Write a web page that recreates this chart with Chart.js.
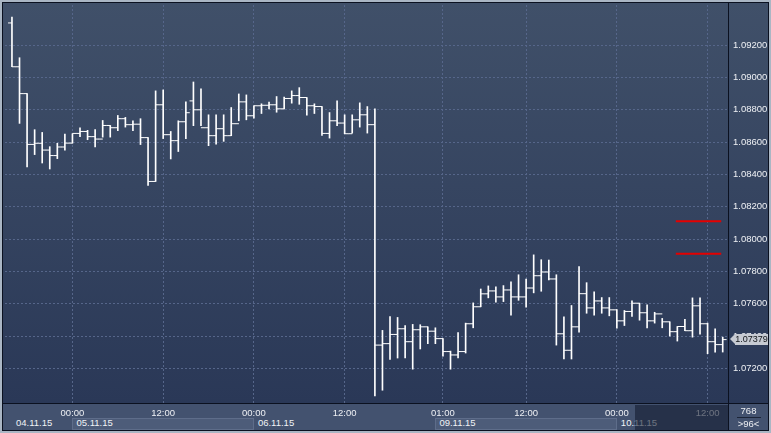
<!DOCTYPE html>
<html>
<head>
<meta charset="utf-8">
<script src="https://cdn.jsdelivr.net/npm/chart.js@4.4.0/dist/chart.umd.min.js"></script>
<style>
  body { margin: 0; background: #aab6c4; }
  #wrap { position: relative; width: 771px; height: 433px; overflow: hidden; background: #aab6c4; font-family: "Liberation Sans", Arial, sans-serif; }
  .abs { position: absolute; }
  #inner { left: 2px; top: 2px; width: 767px; height: 429px; background: #0b1120; }
  #plotBg { left: 3px; top: 3px; width: 725px; height: 400px; background: linear-gradient(#405069, #2a3857); }
  #axisBg { left: 729px; top: 3px; width: 39px; height: 400px; background: linear-gradient(#405069, #2a3857); }
  #band { left: 3px; top: 404px; width: 725px; height: 26px; background: #43526f; }
  #corner { left: 729px; top: 404px; width: 39px; height: 26px; background: #43526f; color: #eef0f4; font-size: 9.5px; text-align: center; }
  #corner .top { position: absolute; left: 0; width: 39px; top: 1px; line-height: 12px; }
  #corner .rule { position: absolute; left: 8px; width: 24px; top: 13px; height: 1px; background: #1c2538; }
  #corner .bot { position: absolute; left: 0; width: 39px; top: 14px; line-height: 12px; }
  canvas { position: absolute; left: 0; top: 0; }
  .daybox { position: absolute; top: 418px; height: 12px; background: #4d5c79; border: 1px solid #5e6d8a; box-sizing: border-box; }
  .day { position: absolute; top: 417px; font-size: 9.5px; color: #f0f2f6; line-height: 12px; white-space: nowrap; }
  #shade { left: 635px; top: 405px; width: 93px; height: 25px; background: rgba(20, 28, 48, 0.6); }
  #price { position: absolute; left: 735px; width: 33px; height: 11px; background: #c6cad2; color: #101418; font-size: 9px; line-height: 11px; text-align: center; }
  #price:before { content: ""; position: absolute; left: -5px; top: 0; border-top: 5.5px solid transparent; border-bottom: 5.5px solid transparent; border-right: 5px solid #c6cad2; }
</style>
</head>
<body>
<div id="wrap">
  <div id="inner" class="abs"></div>
  <div id="plotBg" class="abs"></div>
  <div id="axisBg" class="abs"></div>
  <div id="band" class="abs"></div>
  <div id="days"></div>
  <canvas id="chart" width="771" height="433"></canvas>
  <div id="shade" class="abs"></div>
  <div id="corner" class="abs"><div class="top">768</div><div class="rule"></div><div class="bot">&gt;96&lt;</div></div>
  <div id="price"></div>
</div>
<script>
// EURUSD H1 bars, 04.11.15 16:00 .. 10.11.15 14:00
const opens = [
  1.09337, 1.09066, 1.08900, 1.08586, 1.08593, 1.08551, 1.08517, 1.08570, 1.08594, 1.08654,
  1.08666, 1.08634, 1.08619, 1.08703, 1.08689, 1.08745, 1.08708, 1.08711, 1.08628, 1.08357,
  1.08831, 1.08646, 1.08609, 1.08726, 1.08855, 1.08800, 1.08689, 1.08640, 1.08683, 1.08640,
  1.08714, 1.08849, 1.08763, 1.08825, 1.08828, 1.08831, 1.08806, 1.08870, 1.08888, 1.08876,
  1.08825, 1.08820, 1.08654, 1.08732, 1.08718, 1.08652, 1.08738, 1.08769, 1.08708, 1.07345,
  1.07354, 1.07411, 1.07446, 1.07366, 1.07440, 1.07458, 1.07431, 1.07385, 1.07305, 1.07284,
  1.07305, 1.07477, 1.07582, 1.07662, 1.07680, 1.07643, 1.07686, 1.07643, 1.07643, 1.07698,
  1.07774, 1.07797, 1.07754, 1.07415, 1.07313, 1.07458, 1.07663, 1.07575, 1.07618, 1.07575,
  1.07563, 1.07495, 1.07553, 1.07604, 1.07545, 1.07495, 1.07538, 1.07489, 1.07428, 1.07460,
  1.07434, 1.07588, 1.07477, 1.07366, 1.07348
];
const highs = [
  1.09374, 1.09122, 1.08900, 1.08677, 1.08660, 1.08572, 1.08593, 1.08650, 1.08652, 1.08689,
  1.08673, 1.08677, 1.08734, 1.08703, 1.08765, 1.08753, 1.08732, 1.08745, 1.08628, 1.08917,
  1.08923, 1.08666, 1.08732, 1.08849, 1.08972, 1.08929, 1.08769, 1.08769, 1.08769, 1.08814,
  1.08898, 1.08892, 1.08825, 1.08837, 1.08847, 1.08882, 1.08878, 1.08917, 1.08937, 1.08876,
  1.08837, 1.08820, 1.08783, 1.08855, 1.08769, 1.08769, 1.08843, 1.08820, 1.08806, 1.07436,
  1.07522, 1.07516, 1.07466, 1.07473, 1.07471, 1.07458, 1.07452, 1.07385, 1.07308, 1.07423,
  1.07481, 1.07606, 1.07692, 1.07711, 1.07706, 1.07713, 1.07737, 1.07780, 1.07754, 1.07903,
  1.07873, 1.07871, 1.07780, 1.07520, 1.07590, 1.07830, 1.07731, 1.07674, 1.07639, 1.07639,
  1.07565, 1.07559, 1.07618, 1.07604, 1.07594, 1.07548, 1.07510, 1.07489, 1.07460, 1.07505,
  1.07637, 1.07637, 1.07481, 1.07446, 1.07394
];
const lows = [
  1.09066, 1.08716, 1.08447, 1.08523, 1.08471, 1.08434, 1.08498, 1.08551, 1.08594, 1.08634,
  1.08615, 1.08570, 1.08631, 1.08631, 1.08671, 1.08693, 1.08671, 1.08585, 1.08332, 1.08357,
  1.08622, 1.08496, 1.08542, 1.08622, 1.08702, 1.08702, 1.08578, 1.08588, 1.08605, 1.08640,
  1.08732, 1.08738, 1.08748, 1.08777, 1.08806, 1.08785, 1.08806, 1.08841, 1.08834, 1.08767,
  1.08777, 1.08642, 1.08625, 1.08702, 1.08652, 1.08656, 1.08693, 1.08656, 1.07031, 1.07066,
  1.07257, 1.07265, 1.07265, 1.07196, 1.07321, 1.07354, 1.07354, 1.07276, 1.07196, 1.07265,
  1.07296, 1.07452, 1.07582, 1.07637, 1.07610, 1.07614, 1.07530, 1.07622, 1.07579, 1.07668,
  1.07678, 1.07748, 1.07345, 1.07259, 1.07259, 1.07425, 1.07542, 1.07530, 1.07542, 1.07526,
  1.07450, 1.07466, 1.07522, 1.07499, 1.07452, 1.07481, 1.07452, 1.07401, 1.07370, 1.07434,
  1.07394, 1.07413, 1.07292, 1.07302, 1.07302
];
const closes = [
  1.09066, 1.08900, 1.08586, 1.08593, 1.08551, 1.08517, 1.08570, 1.08594, 1.08654, 1.08666,
  1.08634, 1.08619, 1.08703, 1.08689, 1.08745, 1.08708, 1.08711, 1.08628, 1.08357, 1.08831,
  1.08646, 1.08609, 1.08726, 1.08782, 1.08800, 1.08689, 1.08640, 1.08683, 1.08640, 1.08714,
  1.08849, 1.08763, 1.08825, 1.08828, 1.08831, 1.08806, 1.08870, 1.08888, 1.08876, 1.08825,
  1.08820, 1.08654, 1.08732, 1.08718, 1.08652, 1.08738, 1.08769, 1.08708, 1.07345, 1.07354,
  1.07411, 1.07446, 1.07366, 1.07440, 1.07458, 1.07431, 1.07385, 1.07305, 1.07284, 1.07305,
  1.07477, 1.07582, 1.07662, 1.07680, 1.07643, 1.07686, 1.07643, 1.07643, 1.07698, 1.07774,
  1.07797, 1.07754, 1.07415, 1.07313, 1.07458, 1.07663, 1.07575, 1.07618, 1.07575, 1.07563,
  1.07495, 1.07553, 1.07604, 1.07545, 1.07495, 1.07538, 1.07489, 1.07428, 1.07460, 1.07434,
  1.07588, 1.07477, 1.07366, 1.07348, 1.07379
];

// pending order levels (red lines) and the bar range they span
const orderLevels = [1.08111, 1.07910];
const orderFromBar = 87.8;
const orderToBar = 93.8;

const yTicks = [1.072, 1.074, 1.076, 1.078, 1.080, 1.082, 1.084, 1.086, 1.088, 1.090, 1.092];
const timeTickBars = [8, 20, 32, 44, 57, 68, 80, 92];
const timeTickLabels = ['00:00', '12:00', '00:00', '12:00', '01:00', '12:00', '00:00', '12:00'];
const dayLabels = ['04.11.15', '05.11.15', '06.11.15', '09.11.15', '10.11.15'];
const dayStartBars = [0, 8, 32, 56, 80];

const barIdx = highs.map((_, i) => i);
const gridColor = '#56668a';
const white = '#ffffff';
const font = { family: 'Liberation Sans', size: 9.5 };

const datasets = [
  {
    type: 'bar',
    data: barIdx.map(i => ({ x: i, y: [lows[i], highs[i]] })),
    backgroundColor: white,
    borderWidth: 0,
    barThickness: 1
  },
  {
    type: 'scatter',
    data: barIdx.map(i => ({ x: i - 0.25, y: opens[i] })),
    pointStyle: 'line',
    pointRadius: 2,
    pointBorderColor: white,
    pointBorderWidth: 1
  },
  {
    type: 'scatter',
    data: barIdx.map(i => ({ x: i + 0.25, y: closes[i] })),
    pointStyle: 'line',
    pointRadius: 2,
    pointBorderColor: white,
    pointBorderWidth: 1
  }
];

orderLevels.forEach(level => {
  datasets.push({
    type: 'line',
    data: [{ x: orderFromBar, y: level }, { x: orderToBar, y: level }],
    borderColor: '#e40000',
    borderWidth: 2,
    pointRadius: 0
  });
});

const config = {
  type: 'bar',
  data: { datasets: datasets },
  options: {
    responsive: false,
    animation: false,
    events: [],
    layout: { padding: { left: 3, top: 3, right: 3, bottom: 2 } },
    plugins: { legend: { display: false }, tooltip: { enabled: false } },
    scales: {
      x: {
        type: 'linear',
        min: -0.92,
        max: 94.7,
        offset: false,
        afterBuildTicks: scale => { scale.ticks = timeTickBars.map(v => ({ value: v })); },
        afterFit: scale => {
          scale.height = 28;
          scale.paddingLeft = 0;
          scale.paddingRight = 0;
        },
        grid: { color: gridColor, drawTicks: false, offset: false },
        border: { display: false, dash: [2, 2] },
        ticks: {
          callback: (v, i) => timeTickLabels[i],
          color: '#eef0f4',
          font: font,
          padding: 5,
          maxRotation: 0,
          autoSkip: false
        }
      },
      y: {
        position: 'right',
        min: 1.06987,
        max: 1.09448,
        afterBuildTicks: scale => { scale.ticks = yTicks.map(v => ({ value: v })); },
        afterFit: scale => {
          scale.width = 40;
          scale.paddingTop = 0;
          scale.paddingBottom = 0;
        },
        grid: { color: gridColor, drawTicks: false },
        border: { display: false, dash: [2, 2] },
        ticks: {
          callback: v => v.toFixed(5),
          color: '#eef0f4',
          font: font,
          padding: 5
        }
      }
    }
  }
};

const chartCtx = document.getElementById('chart');
const chart = new Chart(chartCtx, config);

// date row under the time labels
const xs = chart.scales.x;
const daysEl = document.getElementById('days');
dayLabels.forEach((label, i) => {
  const left = xs.getPixelForValue(dayStartBars[i]);
  const right = i + 1 < dayStartBars.length ? xs.getPixelForValue(dayStartBars[i + 1]) : chart.chartArea.right;
  if (i % 2 === 1) {
    const box = document.createElement('div');
    box.className = 'daybox';
    box.style.left = left + 'px';
    box.style.width = (right - left) + 'px';
    daysEl.appendChild(box);
  }
  const txt = document.createElement('div');
  txt.className = 'day';
  txt.style.left = (left + 4) + 'px';
  txt.textContent = label;
  daysEl.appendChild(txt);
});

// last price marker on the price axis
const lastClose = closes[closes.length - 1];
const priceEl = document.getElementById('price');
priceEl.textContent = lastClose.toFixed(5);
priceEl.style.top = (chart.scales.y.getPixelForValue(lastClose) - 5.5) + 'px';
</script>
</body>
</html>
